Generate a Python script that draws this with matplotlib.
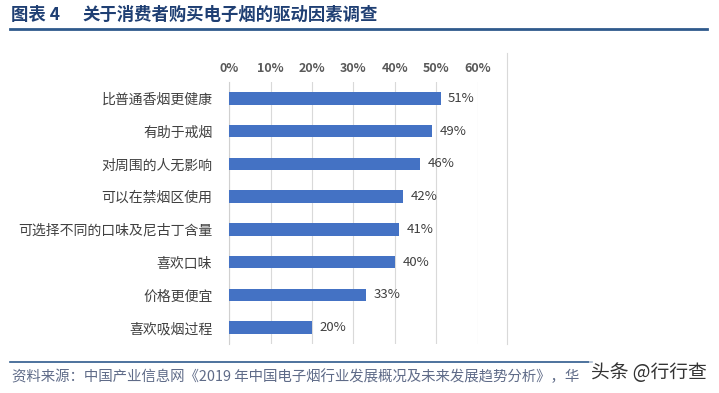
import matplotlib
matplotlib.use("Agg")
import matplotlib.pyplot as plt
from matplotlib.lines import Line2D

plt.rcParams['font.family'] = ['Noto Sans CJK SC', 'DejaVu Sans']

categories = ["比普通香烟更健康", "有助于戒烟", "对周围的人无影响", "可以在禁烟区使用",
              "可选择不同的口味及尼古丁含量", "喜欢口味", "价格更便宜", "喜欢吸烟过程"]
values = [51, 49, 46, 42, 41, 40, 33, 20]
xticks = [0, 10, 20, 30, 40, 50, 60]
xtick_labels = ["0%", "10%", "20%", "30%", "40%", "50%", "60%"]

W, H = 719, 393
fig = plt.figure(figsize=(W / 100, H / 100), dpi=100)

# axes: x 229..478 px, y 82..344 px
ax = fig.add_axes([229 / W, 1 - 344 / H, (478 - 229) / W, (344 - 82) / H])
y = list(range(len(categories)))
ax.barh(y, values, height=0.38, color="#4472C4", zorder=3)
ax.set_ylim(len(categories) - 0.5, -0.5)
ax.set_xlim(0, 60)
ax.set_xticks(xticks)
ax.set_xticklabels(xtick_labels, fontsize=9, color="#595959", fontweight="bold")
ax.xaxis.tick_top()
ax.tick_params(axis="x", length=0, pad=5)
ax.set_yticks(y)
ax.set_yticklabels(categories, fontsize=10, color="#404040")
ax.tick_params(axis="y", length=0, pad=12)
ax.grid(axis="x", color="#D9D9D9", linewidth=0.8, zorder=0)
for s in ["top", "right", "bottom"]:
    ax.spines[s].set_visible(False)
ax.spines["left"].set_color("#D0D0D0")
ax.spines["left"].set_linewidth(0.8)

for yi, v in zip(y, values):
    ax.text(v + 1.8, yi, f"{v}%", va="center", ha="left", fontsize=9.5, color="#404040")

# chart frame right line
fig.add_artist(Line2D([507 / W, 507 / W], [1 - 344 / H, 1 - 53 / H], color="#D9D9D9", linewidth=0.8))

# title
fig.text(11 / W, 1 - 15 / H, "图表 4", fontsize=12.5,
         fontweight="bold", color="#1F3F73", va="center", ha="left")
fig.text(82 / W, 1 - 15 / H, "关于消费者购买电子烟的驱动因素调查", fontsize=12.5,
         fontweight="bold", color="#1F3F73", va="center", ha="left")
fig.add_artist(Line2D([10 / W, 707 / W], [1 - 29 / H, 1 - 29 / H], color="#2F5A8C", linewidth=2))

# footer
fig.add_artist(Line2D([10 / W, 592 / W], [1 - 362 / H, 1 - 362 / H], color="#2F5A8C", linewidth=1.2))
fig.text(12 / W, 1 - 377 / H,
         "资料来源：中国产业信息网《2019 年中国电子烟行业发展概况及未来发展趋势分析》，华",
         fontsize=10.4, color="#5F6B88", va="center", ha="left", style="italic")
fig.text(707 / W, 1 - 372 / H, "头条 @行行查", fontsize=13.5, color="#333333",
         va="center", ha="right",
         bbox=dict(boxstyle="square,pad=0.1", facecolor="white", edgecolor="none", alpha=0.6))

fig.savefig("out.png", dpi=100)
